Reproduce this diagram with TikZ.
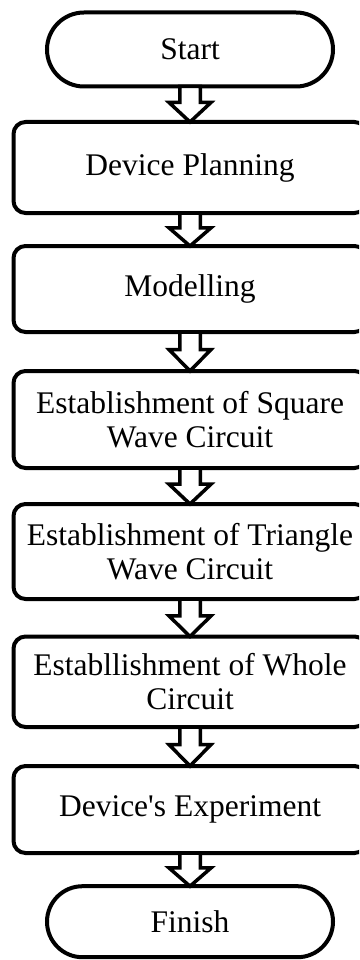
\documentclass[tikz,border=0pt]{standalone}
\usepackage{fontspec}
\newfontfamily\chartfont{Liberation Serif}
\usetikzlibrary{shapes.misc,calc}
\tikzset{
  lbl/.style={font=\chartfont\fontsize{31.5}{33.5}\selectfont, align=center},
  box/.style={lbl, draw, line width=4pt, rounded corners=12pt, minimum width=353pt,
              outer sep=0pt, inner sep=0pt},
  term/.style={lbl, draw, line width=4pt, rounded rectangle, minimum width=286pt,
               outer sep=0pt, inner sep=0pt},
  barrow/.style={draw, fill=white, line width=3.5pt, line join=miter}
}
\newcommand\blockarr[2]{%
  \draw[barrow] let \p1=(#1.south), \p2=(#2.north),
                    \p3=($(#1.south)!0.45!(#2.north)$) in
    (\x1-10.25pt,\y1) -- (\x1-10.25pt,\y3) -- (\x1-21pt,\y3) -- (\x2,\y2)
    -- (\x1+21pt,\y3) -- (\x1+10.25pt,\y3) -- (\x1+10.25pt,\y1) -- cycle;}
\begin{document}
\begin{tikzpicture}
\useasboundingbox (0,0) rectangle (359pt,-960pt);
\clip (0,0) rectangle (359pt,-960pt);
\node[term, minimum height=74pt] (start) at (190pt,-49.5pt) {Start};
\node[box, minimum height=91pt] (b1) at (190pt,-167.5pt) {Device Planning};
\node[box, minimum height=86pt] (b2) at (190pt,-289pt) {Modelling};
\node[box, minimum height=97pt] (b3) at (190pt,-419.5pt) {Establishment of Square\\Wave Circuit};
\node[box, minimum height=95pt] (b4) at (190pt,-551.5pt) {Establishment of Triangle\\Wave Circuit};
\node[box, minimum height=90.5pt] (b5) at (190pt,-681.75pt) {Establlishment of Whole\\Circuit};
\node[box, minimum height=87pt] (b6) at (190pt,-809.5pt) {Device's Experiment};
\node[term, minimum height=71pt] (finish) at (190pt,-921.7pt) {Finish};
\blockarr{start}{b1}
\blockarr{b1}{b2}
\blockarr{b2}{b3}
\blockarr{b3}{b4}
\blockarr{b4}{b5}
\blockarr{b5}{b6}
\blockarr{b6}{finish}
\end{tikzpicture}
\end{document}
